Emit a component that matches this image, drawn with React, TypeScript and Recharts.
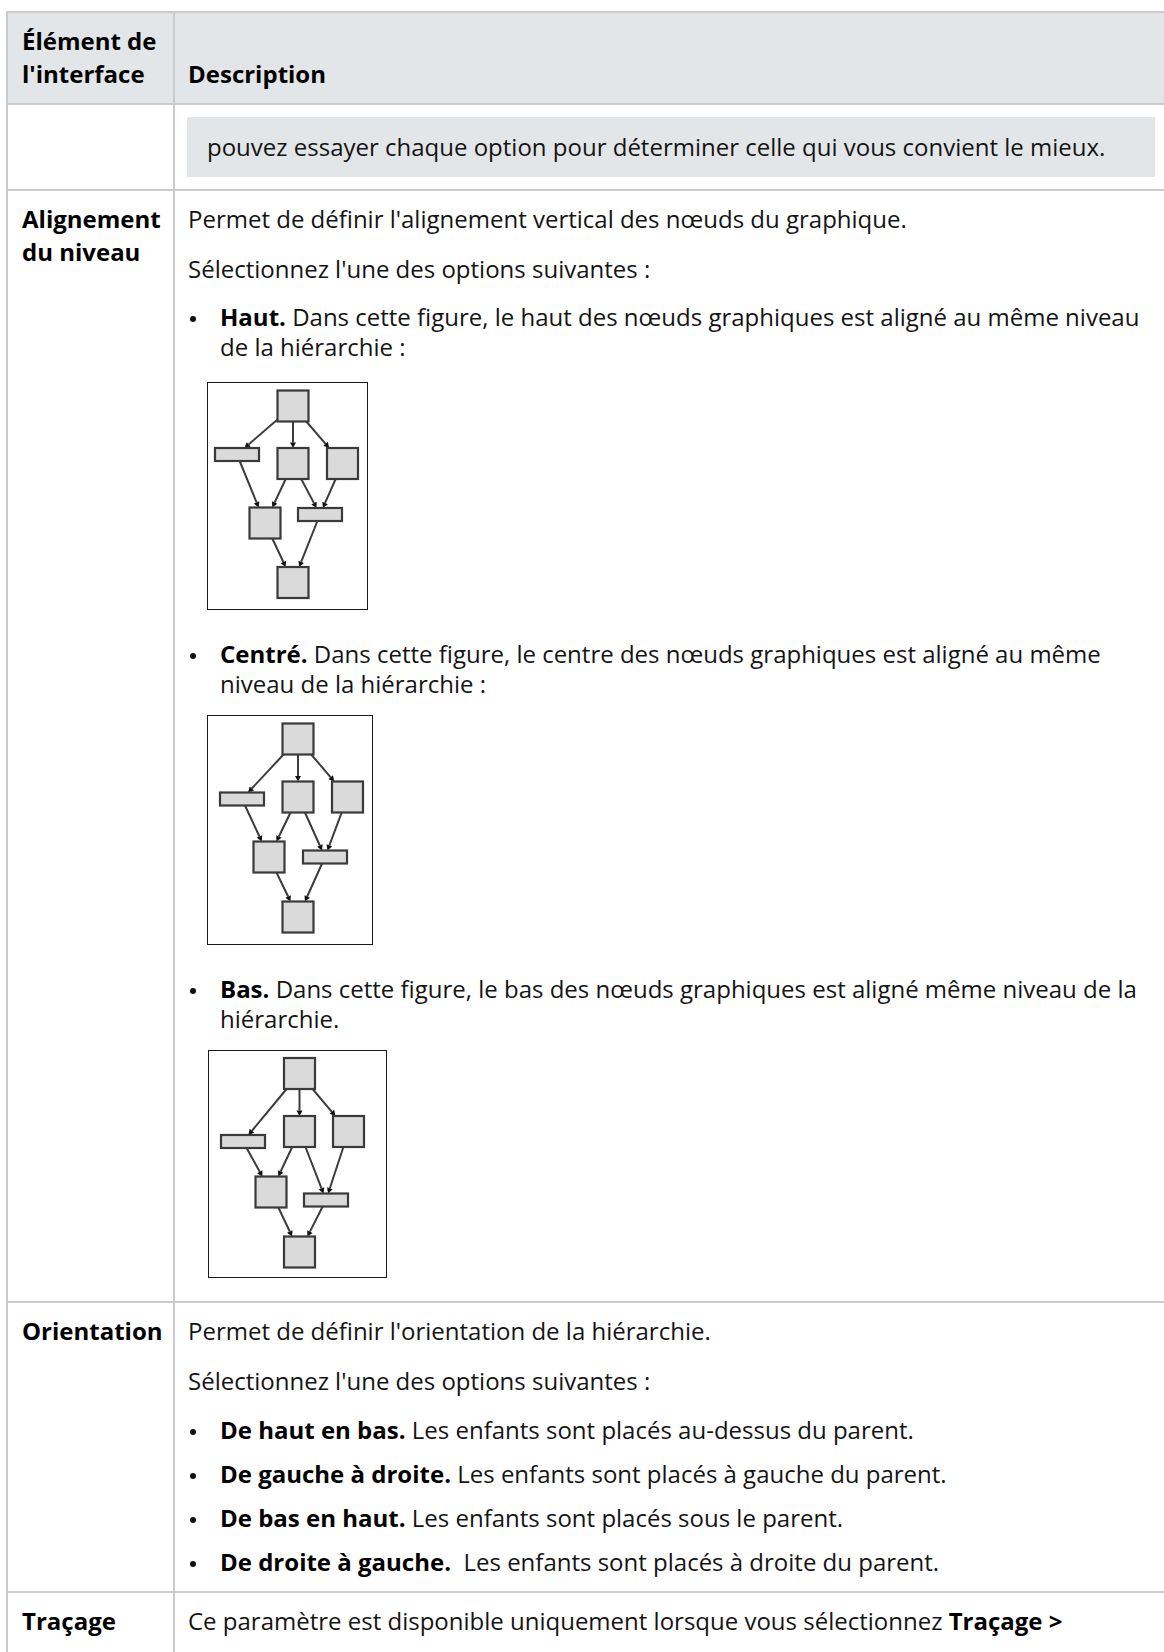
import React from 'react';
import { ScatterChart, Scatter, XAxis, YAxis, ReferenceLine } from 'recharts';

const FONT = '"Open Sans", "Noto Sans", sans-serif';
const RULE = '#cbcbcb';
const SHADE = '#e3e6e8';
const INK = '#141414';

// the three little graphs (one per alignment option), node centres in frame units
const hautNodes = [
  { id: 'T', kind: 'sq', x: 86, y: 24 },
  { id: 'L', kind: 'bar', x: 30, y: 72.5 },
  { id: 'M', kind: 'sq', x: 86, y: 81.5 },
  { id: 'R', kind: 'sq', x: 135.5, y: 81.5 },
  { id: 'A', kind: 'sq', x: 58, y: 141 },
  { id: 'B', kind: 'bar', x: 113, y: 132.5 },
  { id: 'Z', kind: 'sq', x: 86, y: 200.5 },
];
const centreNodes = [
  { id: 'T', kind: 'sq', x: 91, y: 24 },
  { id: 'L', kind: 'bar', x: 35, y: 84 },
  { id: 'M', kind: 'sq', x: 91, y: 82 },
  { id: 'R', kind: 'sq', x: 140.5, y: 82 },
  { id: 'A', kind: 'sq', x: 62, y: 142 },
  { id: 'B', kind: 'bar', x: 118, y: 142 },
  { id: 'Z', kind: 'sq', x: 91, y: 202 },
];
const basNodes = [
  { id: 'T', kind: 'sq', x: 91.5, y: 23.5 },
  { id: 'L', kind: 'bar', x: 35, y: 91.5 },
  { id: 'M', kind: 'sq', x: 91.5, y: 81.5 },
  { id: 'R', kind: 'sq', x: 140.5, y: 81.5 },
  { id: 'A', kind: 'sq', x: 63, y: 142 },
  { id: 'B', kind: 'bar', x: 118, y: 150 },
  { id: 'Z', kind: 'sq', x: 91.5, y: 202 },
];
const edgeList = [
  ['T', 'L'], ['T', 'M'], ['T', 'R'],
  ['L', 'A'], ['M', 'A'], ['M', 'B'], ['R', 'B'],
  ['A', 'Z'], ['B', 'Z'],
];

const SIZE: Record<string, [number, number]> = { sq: [31, 31], bar: [44, 13] };

type Node = { id: string; kind: string; x: number; y: number };

// point where the line between two node centres leaves the first node's box
function clip(a: Node, b: Node) {
  const [w, h] = SIZE[a.kind];
  const dx = b.x - a.x;
  const dy = b.y - a.y;
  const t = Math.min(w / 2 / Math.max(Math.abs(dx), 1e-6), h / 2 / Math.max(Math.abs(dy), 1e-6));
  return { x: a.x + dx * t, y: a.y + dy * t };
}

const NodeShape = (p: any) => {
  const [w, h] = SIZE[p.payload.kind];
  return (
    <rect x={p.cx - w / 2} y={p.cy - h / 2} width={w} height={h} fill="#dadada" stroke="#3a3a3a" strokeWidth={2.2} />
  );
};

const Arrow = (p: any) => {
  const { x1, y1, x2, y2 } = p;
  const ang = Math.atan2(y2 - y1, x2 - x1);
  const len = 5.5;
  const hw = 3;
  const bx = x2 - Math.cos(ang) * len;
  const by = y2 - Math.sin(ang) * len;
  const nx = -Math.sin(ang) * hw;
  const ny = Math.cos(ang) * hw;
  return (
    <g>
      <line x1={x1} y1={y1} x2={bx} y2={by} stroke="#3c3c3c" strokeWidth={2} />
      <polygon points={`${x2},${y2} ${bx + nx},${by + ny} ${bx - nx},${by - ny}`} fill="#111" />
    </g>
  );
};

function Graph({ nodes, left, top, w, h }: { nodes: Node[]; left: number; top: number; w: number; h: number }) {
  const byId: Record<string, Node> = {};
  nodes.forEach((n) => (byId[n.id] = n));
  return (
    <div style={{ position: 'absolute', left, top, width: w, height: h }}>
      <ScatterChart width={w} height={h} margin={{ top: 0, right: 0, bottom: 0, left: 0 }}>
        <XAxis type="number" dataKey="x" domain={[0, w]} hide />
        <YAxis type="number" dataKey="y" domain={[0, h]} reversed hide />
        {edgeList.map(([s, t]) => {
          const a = clip(byId[s], byId[t]);
          const b = clip(byId[t], byId[s]);
          return <ReferenceLine key={s + t} segment={[a, b]} ifOverflow="visible" shape={Arrow} />;
        })}
        <Scatter data={nodes} shape={NodeShape} isAnimationActive={false} />
      </ScatterChart>
      <div style={{ position: 'absolute', left: 0, top: 0, width: w, height: h, boxSizing: 'border-box', border: '1.6px solid #1a1a1a' }} />
    </div>
  );
}

function T({ x, b, bold, children }: { x: number; b: number; bold?: boolean; children: React.ReactNode }) {
  return (
    <div
      style={{
        position: 'absolute',
        left: x,
        top: b - 25,
        fontSize: 24,
        lineHeight: '32px',
        whiteSpace: 'pre',
        fontWeight: bold ? 700 : 400,
        color: bold ? '#000' : INK,
      }}
    >
      {children}
    </div>
  );
}

function Bullet({ b, head, text }: { b: number; head: string; text: string }) {
  return (
    <>
      <div style={{ position: 'absolute', left: 190, top: b - 10, width: 6, height: 6, borderRadius: 3, background: '#111' }} />
      <T x={220} b={b}>
        <b style={{ color: '#000' }}>{head}</b>
        {text}
      </T>
    </>
  );
}

const hLine = (y: number) => (
  <div style={{ position: 'absolute', left: 6, top: y, width: 1160, height: 2, background: RULE }} />
);
const vLine = (x: number, y0: number, y1: number) => (
  <div style={{ position: 'absolute', left: x, top: y0, width: 2, height: y1 - y0, background: RULE }} />
);

export default function App() {
  return (
    <div style={{ position: 'absolute', left: 0, top: 0, width: 1164, height: 1652, overflow: 'hidden', background: '#fff', fontFamily: FONT }}>
      <div style={{ position: 'absolute', left: 6, top: 12, width: 1160, height: 92, background: SHADE }} />
      <div style={{ position: 'absolute', left: 187, top: 117, width: 968, height: 60, background: SHADE }} />
      {hLine(11)}
      {hLine(103)}
      {hLine(189)}
      {hLine(1301)}
      {hLine(1591)}
      {vLine(6, 11, 1652)}
      {vLine(173, 11, 1652)}

      <T x={22} b={50} bold>Élément de</T>
      <T x={22} b={83} bold>l'interface</T>
      <T x={188} b={83} bold>Description</T>

      <T x={207} b={156}>pouvez essayer chaque option pour déterminer celle qui vous convient le mieux.</T>

      <T x={22} b={228} bold>Alignement</T>
      <T x={22} b={261} bold>du niveau</T>
      <T x={188} b={228}>Permet de définir l'alignement vertical des nœuds du graphique.</T>
      <T x={188} b={278}>Sélectionnez l'une des options suivantes :</T>

      <Bullet b={326} head="Haut." text=" Dans cette figure, le haut des nœuds graphiques est aligné au même niveau" />
      <T x={220} b={356}>de la hiérarchie :</T>
      <Graph nodes={hautNodes} left={207} top={382} w={161} h={228} />

      <Bullet b={663} head="Centré." text=" Dans cette figure, le centre des nœuds graphiques est aligné au même" />
      <T x={220} b={693}>niveau de la hiérarchie :</T>
      <Graph nodes={centreNodes} left={207} top={715} w={166} h={230} />

      <Bullet b={998} head="Bas." text=" Dans cette figure, le bas des nœuds graphiques est aligné même niveau de la" />
      <T x={220} b={1028}>hiérarchie.</T>
      <Graph nodes={basNodes} left={208} top={1050} w={179} h={228} />

      <T x={22} b={1340} bold>Orientation</T>
      <T x={188} b={1340}>Permet de définir l'orientation de la hiérarchie.</T>
      <T x={188} b={1390}>Sélectionnez l'une des options suivantes :</T>
      <Bullet b={1439} head="De haut en bas." text=" Les enfants sont placés au-dessus du parent." />
      <Bullet b={1483} head="De gauche à droite." text=" Les enfants sont placés à gauche du parent." />
      <Bullet b={1527} head="De bas en haut." text=" Les enfants sont placés sous le parent." />
      <Bullet b={1571} head="De droite à gauche." text="  Les enfants sont placés à droite du parent." />

      <T x={22} b={1630} bold>Traçage</T>
      <T x={188} b={1630}>
        Ce paramètre est disponible uniquement lorsque vous sélectionnez <b style={{ color: '#000' }}>Traçage &gt;</b>
      </T>
    </div>
  );
}
